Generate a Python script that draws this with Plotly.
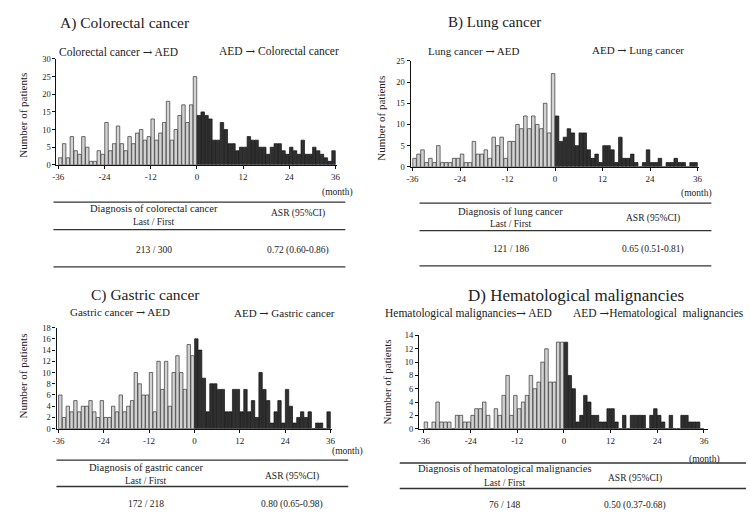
import plotly.graph_objects as go

W, H = 750, 518
months_pre = list(range(-36, 0))
months_post = list(range(0, 36))

# Panel A: Colorectal cancer
a_pre = [2,6,2,8,4,3,8,5,1,1, 4,3,12,4,6,11,6,4,8,6, 9,10,7,8,13,7,9,12,18,7, 10,14,17,12,17,25]
a_post = [14,15,14,13,7,7,12,10,6,6, 4,5,5,8,7,7,5,5,3,5, 6,6,4,3,5,4,3,7,3,3, 5,4,3,2,1,4]
# Panel B: Lung cancer
b_pre = [2,3,4,1,2,1,5,1,1,1, 2,2,3,1,1,6,3,3,4,2, 7,5,7,2,6,6,10,9,12,9, 12,10,9,15,8,22]
b_post = [12,6,7,9,8,5,8,8,4,2, 3,1,5,5,4,1,7,2,2,3, 1,0,1,4,1,1,2,0,1,1, 2,1,1,0,1,1]
# Panel C: Gastric cancer
c_pre = [6,2,4,3,5,3,4,4,5,3, 2,5,2,2,4,3,6,3,4,5, 10,8,6,6,10,3,12,7,12,4, 10,13,10,7,15,13]
c_post = [16,14,9,3,8,8,7,7,3,3, 7,7,3,7,3,5,2,10,7,5, 1,3,5,1,7,4,1,2,3,2, 3,0,1,1,0,3]
# Panel D: Hematological malignancies
d_pre = [1,0,1,4,1,1,1,0,2,2, 1,1,2,3,3,4,2,0,3,2, 5,8,2,5,3,4,5,8,6,7, 10,12,7,7,13,13]
d_post = [13,8,6,1,2,5,4,2,2,1, 1,3,3,1,0,2,0,2,2,2, 2,0,2,3,2,1,0,2,0,0, 2,2,1,1,1,0]

x_ticks = [-36, -24, -12, 0, 12, 24, 36]

ARROW = '<span style="font-family:DejaVu Serif">\u2192</span>'

panels = [
    dict(pre=a_pre, post=a_post, title="A) Colorectal cancer",
         sub_l="Colorectal cancer " + ARROW + " AED", sub_r="AED " + ARROW + " Colorectal cancer",
         ymax=30, ystep=5),
    dict(pre=b_pre, post=b_post, title="B) Lung cancer",
         sub_l="Lung cancer " + ARROW + " AED", sub_r="AED " + ARROW + " Lung cancer",
         ymax=25, ystep=5),
    dict(pre=c_pre, post=c_post, title="C) Gastric cancer",
         sub_l="Gastric cancer " + ARROW + " AED", sub_r="AED " + ARROW + " Gastric cancer",
         ymax=18, ystep=2),
    dict(pre=d_pre, post=d_post, title="D) Hematological malignancies",
         sub_l="Hematological malignancies" + ARROW + " AED", sub_r="AED " + ARROW + "Hematological  malignancies",
         ymax=14, ystep=2),
]

# geometry (pixels): zero position, px per month, x range, y bottom/top px
geo = [
    dict(x0=195, ppm=3.89, xr=(-36.5, 36.3), yb=163, yt=55),
    dict(x0=557, ppm=4.0, xr=(-36.5, 36.3), yb=165, yt=57),
    dict(x0=192.5, ppm=3.82, xr=(-36.5, 36.3), yb=432, yt=329),
    dict(x0=566, ppm=3.93, xr=(-37.3, 37.0), yb=432, yt=337),
]

FONT = "Liberation Serif, Times New Roman, serif"
TXT = "#222222"

def px(x):
    return x / W

def py(y):
    return 1 - y / H

fig = go.Figure()
layout = {}
for i, (p, g) in enumerate(zip(panels, geo)):
    n = "" if i == 0 else str(i + 1)
    xa, ya = "x" + n, "y" + n
    fig.add_trace(go.Bar(x=[m + 0.5 for m in months_pre], y=p["pre"], xaxis=xa, yaxis=ya,
                         width=0.9, marker=dict(color="#d2d2d2", line=dict(color="#333333", width=0.7)),
                         showlegend=False))
    fig.add_trace(go.Bar(x=[m + 0.5 for m in months_post], y=p["post"], xaxis=xa, yaxis=ya,
                         width=0.9, marker=dict(color="#303030", line=dict(color="#111111", width=0.7)),
                         showlegend=False))
    left = g["x0"] + g["xr"][0] * g["ppm"]
    right = g["x0"] + g["xr"][1] * g["ppm"]
    layout["xaxis" + n] = dict(domain=[px(left), px(right)], range=list(g["xr"]), anchor=ya,
                               tickvals=x_ticks, ticktext=[str(t) for t in x_ticks],
                               ticks="outside", ticklen=3, tickwidth=1, tickcolor="#111",
                               showline=True, linecolor="#111", linewidth=1.2,
                               showgrid=False, zeroline=False,
                               tickfont=dict(family=FONT, size=9, color=TXT))
    layout["yaxis" + n] = dict(domain=[py(g["yb"]), py(g["yt"])], range=[0, p["ymax"]], anchor=xa,
                               tickvals=list(range(0, p["ymax"] + 1, p["ystep"])),
                               ticks="outside", ticklen=3, tickwidth=1, tickcolor="#111",
                               showline=True, linecolor="#111", linewidth=1.2,
                               showgrid=False, zeroline=False,
                               tickfont=dict(family=FONT, size=8.5, color=TXT))

ann = []
def t(x, y, s, size=10, xanchor="center", angle=0):
    ann.append(dict(x=px(x), y=py(y), xref="paper", yref="paper", text=s, showarrow=False,
                    xanchor=xanchor, yanchor="middle", textangle=angle,
                    font=dict(family=FONT, size=size, color=TXT)))

# titles
t(122, 18, panels[0]["title"], 15.5)
t(496, 18, panels[1]["title"], 15)
t(143, 296, panels[2]["title"], 15.5)
t(578, 296, panels[3]["title"], 17)
# subtitles
t(116, 48, panels[0]["sub_l"], 11.5)
t(278, 47, panels[0]["sub_r"], 11.5)
t(475, 47, panels[1]["sub_l"], 11)
t(641, 46, panels[1]["sub_r"], 11)
t(117, 314, panels[2]["sub_l"], 11)
t(284, 315, panels[2]["sub_r"], 11)
t(470, 314, panels[3]["sub_l"], 11.5)
t(573, 314, panels[3]["sub_r"], 11.5, xanchor="left")
# y titles
t(19, 112, "Number of patients", 11, angle=-90)
t(381, 115, "Number of patients", 11, angle=-90)
t(19, 378, "Number of patients", 11, angle=-90)
t(387, 384, "Number of patients", 11, angle=-90)
# month labels
t(337, 191, "(month)", 9.5)
t(700, 192, "(month)", 9.5)
t(347, 455, "(month)", 9.5)
t(708, 463, "(month)", 9.5)

# tables
tables = [
    dict(lines=(201, 229, 267), xl=50, xr=345, diag="Diagnosis of colorectal cancer", cx=152, ax=297,
         dy=207, ly=221, hy=213, vy=250, val="213 / 300", asr="0.72 (0.60-0.86)"),
    dict(lines=(202, 230, 266), xl=420, xr=715, diag="Diagnosis of lung cancer", cx=512, ax=656,
         dy=211, ly=223, hy=218, vy=249, val="121 / 186", asr="0.65 (0.51-0.81)"),
    dict(lines=(464, 491, None), xl=53, xr=348, diag="Diagnosis of gastric cancer", cx=144, ax=291,
         dy=472, ly=485, hy=481, vy=509, val="172 / 218", asr="0.80 (0.65-0.98)"),
    dict(lines=(467, 493, None), xl=400, xr=750, diag="Diagnosis of hematological malignancies", cx=506, ax=638,
         dy=473, ly=487, hy=483, vy=510, val="76 / 148", asr="0.50 (0.37-0.68)"),
]
shapes = []
for tb in tables:
    for ly in tb["lines"]:
        if ly is None:
            continue
        shapes.append(dict(type="line", xref="paper", yref="paper",
                           x0=px(tb["xl"]), x1=px(tb["xr"]), y0=py(ly), y1=py(ly),
                           line=dict(color="#333333", width=1.3)))
    t(tb["cx"], tb["dy"], tb["diag"], 10.5)
    t(tb["cx"], tb["ly"], "Last / First", 9.5)
    t(tb["ax"], tb["hy"], "ASR (95%CI)", 9.5)
    t(tb["cx"], tb["vy"], tb["val"], 9.5)
    t(tb["ax"], tb["vy"], tb["asr"], 9.5)

fig.update_layout(**layout)
fig.update_layout(width=W, height=H, margin=dict(l=0, r=0, t=0, b=0),
                  paper_bgcolor="white", plot_bgcolor="white",
                  barmode="overlay", annotations=ann, shapes=shapes)
fig.write_html("out.html", config={"displayModeBar": False},
               post_script="document.body.style.margin='0';document.body.style.overflow='hidden';")
